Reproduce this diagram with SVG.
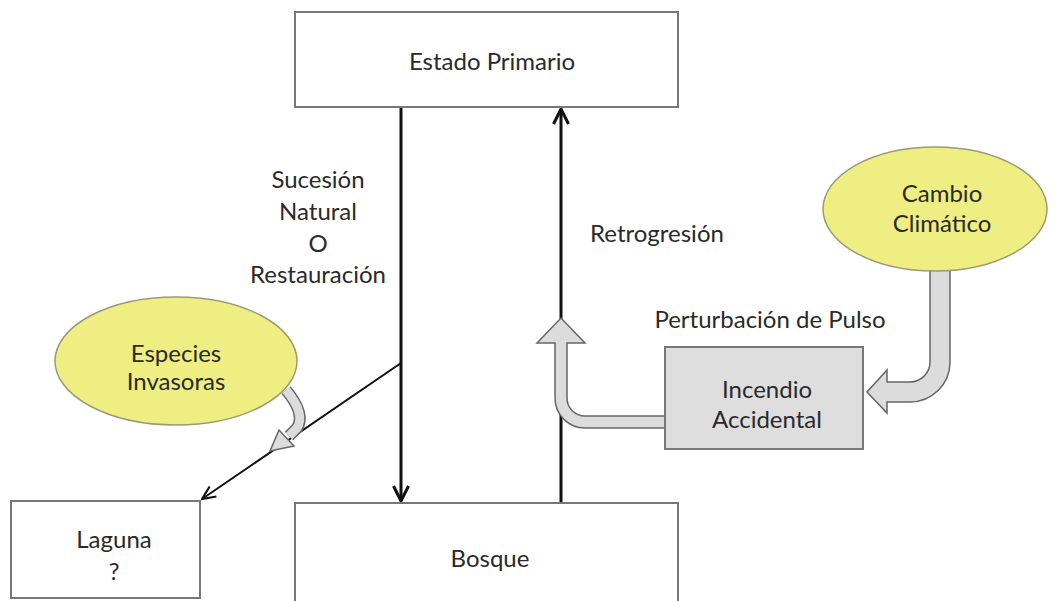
<svg xmlns="http://www.w3.org/2000/svg" width="1061" height="601" viewBox="0 0 1061 601">
<style>
.box{fill:#fff;stroke:#777;stroke-width:2}
.gbox{fill:#dedede;stroke:#777;stroke-width:2}
.ell{fill:#eeee82;stroke:#9a9a78;stroke-width:1.5}
.t{font-family:Lato,"Open Sans",sans-serif;font-size:24px;fill:#2a2a2a;text-anchor:middle}
.blk{fill:#dcdcdc;stroke:#666;stroke-width:1.5}
.ln{stroke:#111;fill:none}
</style>
<defs>
<marker id="v" viewBox="0 0 12 12" refX="11" refY="6" markerWidth="6" markerHeight="6" orient="auto" markerUnits="strokeWidth">
<path d="M1,1 L11,6 L1,11" fill="none" stroke="#111" stroke-width="2"/>
</marker>
<marker id="v2" viewBox="0 0 12 12" refX="11" refY="6" markerWidth="8" markerHeight="8" orient="auto" markerUnits="strokeWidth">
<path d="M1,1.5 L11,6 L1,10.5" fill="none" stroke="#111" stroke-width="1.6"/>
</marker>
</defs>
<g id="connectors">
<line class="ln" x1="401" y1="107" x2="401" y2="501" stroke-width="3" marker-end="url(#v)"/>
<line class="ln" x1="561" y1="503" x2="561" y2="109" stroke-width="3" marker-end="url(#v)"/>
<line class="ln" x1="401" y1="363" x2="202" y2="499" stroke-width="2" marker-end="url(#v2)"/>
<path class="blk" d="M665,416 L585,416 A18,18 0 0 1 567,398 L567,343 L585,343 L561,318 L537,343 L555,343 L555,398 A30,30 0 0 0 585,428 L665,428 Z"/>
<path class="blk" d="M930,270 L930,362 A20,20 0 0 1 910,382 L887,382 L887,370 L867,392 L887,413 L887,402 L910,402 A40,40 0 0 0 950,362 L950,270 Z"/>
<g id="inv-arrow">
<path d="M286,390 Q306,414 297,428 L289,436" fill="none" stroke="#666" stroke-width="12"/>
<path d="M286,390 Q306,414 297,428 L289,436" fill="none" stroke="#dcdcdc" stroke-width="9"/>
<path class="blk" d="M294,446 L270,451 L279,430 Z"/>
</g>
</g>
<g id="estado"><rect class="box" x="295" y="12" width="383" height="95"/><text class="t" x="492" y="70">Estado Primario</text></g>
<g id="bosque"><rect class="box" x="295" y="503" width="383" height="110"/><text class="t" x="490" y="567">Bosque</text></g>
<g id="laguna"><rect class="box" x="11" y="501" width="189" height="97"/><text class="t" x="114" y="548">Laguna</text><text class="t" x="114" y="580">?</text></g>
<g id="especies"><ellipse class="ell" cx="176" cy="361" rx="121" ry="64"/><text class="t" x="176" y="362">Especies</text><text class="t" x="176" y="390">Invasoras</text></g>
<g id="cambio"><ellipse class="ell" cx="935" cy="209" rx="112" ry="62"/><text class="t" x="942" y="202">Cambio</text><text class="t" x="942" y="232">Climático</text></g>
<g id="incendio"><rect class="gbox" x="665" y="347" width="198" height="102"/><text class="t" x="767" y="398">Incendio</text><text class="t" x="767" y="428">Accidental</text></g>
<g id="labels">
<text class="t" x="318" y="188">Sucesión</text>
<text class="t" x="318" y="220">Natural</text>
<text class="t" x="318" y="252">O</text>
<text class="t" x="318" y="283">Restauración</text>
<text class="t" x="657" y="242">Retrogresión</text>
<text class="t" x="770" y="328">Perturbación de Pulso</text>
</g>
</svg>
